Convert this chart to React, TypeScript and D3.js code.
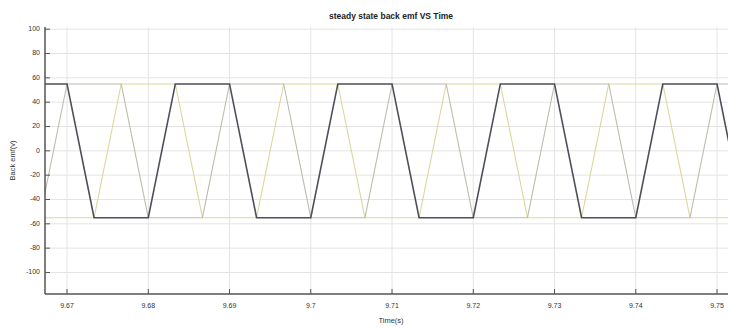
import React from "react";
import * as d3 from "d3";

// breakpoints of the three back emf phases (time in s, emf in V)
const phaseATime = [9.66667, 9.67, 9.67333, 9.68, 9.68333, 9.69, 9.69333, 9.7, 9.70333, 9.71, 9.71333, 9.72, 9.72333, 9.73, 9.73333, 9.74, 9.74333, 9.75, 9.75333];
const phaseAValue = [55, 55, -55, -55, 55, 55, -55, -55, 55, 55, -55, -55, 55, 55, -55, -55, 55, 55, -55];

const phaseBTime = [9.66667, 9.67, 9.67667, 9.68, 9.68667, 9.69, 9.69667, 9.7, 9.70667, 9.71, 9.71667, 9.72, 9.72667, 9.73, 9.73667, 9.74, 9.74667, 9.75, 9.75667];
const phaseBValue = [-55, 55, 55, -55, -55, 55, 55, -55, -55, 55, 55, -55, -55, 55, 55, -55, -55, 55, 55];

const phaseCTime = [9.66667, 9.67333, 9.67667, 9.68333, 9.68667, 9.69333, 9.69667, 9.70333, 9.70667, 9.71333, 9.71667, 9.72333, 9.72667, 9.73333, 9.73667, 9.74333, 9.74667, 9.75333];
const phaseCValue = [-55, -55, 55, 55, -55, -55, 55, 55, -55, -55, 55, 55, -55, -55, 55, 55, -55, -55];

const xTicks = [9.67, 9.68, 9.69, 9.7, 9.71, 9.72, 9.73, 9.74, 9.75];
const xTickLabels = ["9.67", "9.68", "9.69", "9.7", "9.71", "9.72", "9.73", "9.74", "9.75"];
const yTicks = [100, 80, 60, 40, 20, 0, -20, -40, -60, -80, -100];

const width = 729;
const height = 328;
const margin = { top: 27, right: 1, bottom: 34, left: 45 };
const font = "'Liberation Sans', Arial, sans-serif";

const App: React.FC = () => {
  const x = d3
    .scaleLinear()
    .domain([9.66729, 9.75135])
    .range([margin.left, width - margin.right]);
  const y = d3
    .scaleLinear()
    .domain([-117.7, 101.8])
    .range([height - margin.bottom, margin.top]);

  const line = d3
    .line<[number, number]>()
    .x((d) => x(d[0]))
    .y((d) => y(d[1]));

  const series = [
    { t: phaseCTime, v: phaseCValue, color: "#dcd79c", w: 1.1 },
    { t: phaseBTime, v: phaseBValue, color: "#bdbcad", w: 1.1 },
    { t: phaseATime, v: phaseAValue, color: "#4d4f58", w: 1.6 },
  ];

  const x0 = margin.left;
  const x1 = width - margin.right;
  const y0 = height - margin.bottom;
  const y1 = margin.top;

  return (
    <svg
      width={width}
      height={height}
      style={{ position: "absolute", left: 0, top: 0, background: "#fff" }}
    >
      <defs>
        <clipPath id="plot">
          <rect x={x0} y={y1} width={x1 - x0} height={y0 - y1} />
        </clipPath>
      </defs>

      {/* grid */}
      {yTicks.map((t) => (
        <line key={`gy-${t}`} x1={x0} x2={x1} y1={y(t)} y2={y(t)} stroke="#e4e4e4" strokeWidth={1} />
      ))}
      {xTicks.map((t) => (
        <line key={`gx-${t}`} x1={x(t)} x2={x(t)} y1={y0} y2={y1} stroke="#e4e4e4" strokeWidth={1} />
      ))}

      {/* phases */}
      <g clipPath="url(#plot)">
        {series.map((s, i) => (
          <path
            key={i}
            d={line(s.t.map((t, k) => [t, s.v[k]] as [number, number])) ?? ""}
            fill="none"
            stroke={s.color}
            strokeWidth={s.w}
          />
        ))}
      </g>

      {/* axes */}
      <line x1={x0} x2={x1} y1={y0} y2={y0} stroke="#555" strokeWidth={1.5} />
      <line x1={x0} x2={x0} y1={y0} y2={y1} stroke="#555" strokeWidth={1.5} />
      {xTicks.map((t, i) => (
        <g key={`xt-${t}`}>
          <line x1={x(t)} x2={x(t)} y1={y0} y2={y0 - 5} stroke="#555" strokeWidth={1} />
          <text
            x={x(t)}
            y={y0 + 14}
            textAnchor="middle"
            fontFamily={font}
            fontSize={7}
            fill="#333"
          >
            {xTickLabels[i]}
          </text>
        </g>
      ))}
      {yTicks.map((t) => (
        <g key={`yt-${t}`}>
          <line x1={x0} x2={x0 + 5} y1={y(t)} y2={y(t)} stroke="#555" strokeWidth={1} />
          <text
            x={x0 - 5}
            y={y(t)}
            textAnchor="end"
            dominantBaseline="middle"
            fontFamily={font}
            fontSize={7}
            fill="#333"
          >
            {t}
          </text>
        </g>
      ))}

      {/* labels */}
      <text
        x={391}
        y={19}
        textAnchor="middle"
        fontFamily={font}
        fontSize={8.5}
        fontWeight="bold"
        fill="#222"
      >
        steady state back emf VS Time
      </text>
      <text
        x={391}
        y={323}
        textAnchor="middle"
        fontFamily={font}
        fontSize={7.5}
        fill="#333"
      >
        Time(s)
      </text>
      <text
        transform={`translate(15, ${(y0 + y1) / 2}) rotate(-90)`}
        textAnchor="middle"
        fontFamily={font}
        fontSize={7.5}
        fill="#333"
      >
        Back emf(v)
      </text>
    </svg>
  );
};

export default App;
